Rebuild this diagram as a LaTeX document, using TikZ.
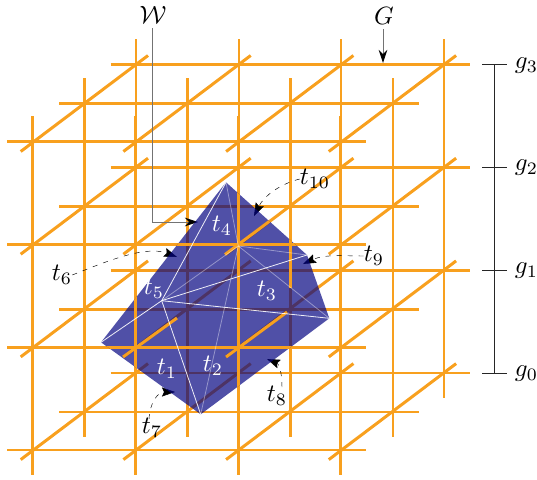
\documentclass[tikz,border=0pt]{standalone}
\usepackage{graphicx}
\usetikzlibrary{arrows.meta}
\definecolor{gridor}{RGB}{248,160,30}
\definecolor{polyb}{RGB}{5,5,130}
\newcommand{\bigmath}[1]{\scalebox{2.5}{$#1$}}
\tikzset{
  gridline/.style={draw=gridor,line width=2.6pt},
  poly/.style={fill=polyb,fill opacity=.7},
  frontedge/.style={draw=white,line width=.8pt,opacity=.9},
  backedge/.style={draw=white,line width=.8pt,opacity=.4},
  leader/.style={draw=black,line width=.45pt,dash pattern=on 5pt off 6pt,-{Stealth[length=13pt,width=9pt,inset=2pt,color=black]}},
  pointer/.style={draw=black!55,line width=.9pt,-{Stealth[length=13pt,width=8.5pt,color=black]}},
  lab/.style={inner sep=0pt},
  wlab/.style={lab,text=white},
  ruler/.style={draw=black!85,line width=.9pt}
}
\begin{document}
\begin{tikzpicture}[x=1pt,y=-1pt]
\useasboundingbox (0,0) rectangle (537,479);
% grid: three layers, back first
\foreach \y in {64.7,167.3,270.2,373}{\draw[gridline] (110.5,\y) -- (470,\y);}
\foreach \x in {136,239,341,444}{\draw[gridline] (\x,39) -- (\x,398);}
\foreach \y in {103.7,206.3,309.3,412}{\draw[gridline] (59,\y) -- (419,\y);}
\foreach \x in {84.7,187.7,290.3,393}{\draw[gridline] (\x,78) -- (\x,437);}
\foreach \y in {141.7,244.5,347.3,449.8}{\draw[gridline] (7,\y) -- (366,\y);}
\foreach \x in {32.3,135.3,238.3,340.3}{\draw[gridline] (\x,116) -- (\x,475);}
\foreach \i in {0,1,2,3}{\foreach \j in {0,1,2,3}{
  \draw[gridline,line width=3pt] ({20.7+102.7*\i},{459.6-102.7*\j}) -- ({148+102.7*\i},{363.6-102.7*\j});
}}
% leaders (lie under the surface)
\coordinate (w0) at (152,28);
\coordinate (w1) at (198,222);
\coordinate (g0) at (383,29);
\coordinate (g1) at (383,63);
\node[lab] (W) at (153,15) {\bigmath{\mathcal{W}}};
\node[lab] (G) at (384,16) {\bigmath{G}};
\draw[pointer] (w0) |- (w1);
\draw[pointer] (g0) -- (g1);
\node[lab] (t10) at (315,179) {\bigmath{t_{10}}};
\node[lab] (t9) at (374,256) {\bigmath{t_{9}}};
\node[lab] (t6) at (62,275) {\bigmath{t_{6}}};
\node[lab] (t8) at (277,396) {\bigmath{t_{8}}};
\node[lab] (t7) at (152,428) {\bigmath{t_{7}}};
\coordinate (a10) at (254,216);
\coordinate (a9) at (303,264);
\coordinate (a6) at (177,257);
\coordinate (a8) at (267,359);
\coordinate (a7) at (175,392);
\draw[leader] (t10.west) .. controls (280,184) and (264,196) .. (a10);
\draw[leader] (t9.west) .. controls (345,256) and (325,254) .. (a9);
\draw[leader] (t6.east) .. controls (105,262) and (145,245) .. (a6);
\draw[leader] (282,387) .. controls (282,372) and (279,364) .. (a8);
\draw[leader] (149,419) .. controls (150,402) and (158,392) .. (a7);
% surface
\coordinate (T) at (226,182.3);
\coordinate (R) at (307,255);
\coordinate (E) at (329.3,318.3);
\coordinate (B) at (200.7,414.3);
\coordinate (L) at (101,342.3);
\coordinate (A) at (161.7,300.7);
\coordinate (C) at (238.3,246);
\fill[poly] (T) -- (R) -- (E) -- (B) -- (L) -- cycle;
% grid parts in front of the surface
\begin{scope}
\clip (T) -- (R) -- (E) -- (B) -- (L) -- cycle;
\draw[gridline] (7,244.5) -- (366,244.5);
\draw[gridline] (7,347.3) -- (366,347.3);
\draw[gridline] (135.3,116) -- (135.3,475);
\draw[gridline] (238.3,116) -- (238.3,475);
\draw[gridline] (290.3,200) -- (290.3,288);
\draw[gridline,line width=3pt] (225,254.5) -- (300,198.4);
\draw[gridline,line width=3pt] (123,357) -- (177,318);
\draw[gridline,line width=3pt] (226,357) -- (287,312);
\end{scope}
% edges
\foreach \p in {L,T,R,E,B}{\draw[frontedge] (A) -- (\p);}
\foreach \p in {A,T,R,E,B}{\draw[backedge] (C) -- (\p);}
% labels on the surface
\node[wlab] (t1) at (167,369) {\bigmath{t_{1}}};
\node[wlab] (t2) at (213,366) {\bigmath{t_{2}}};
\node[wlab] (t3) at (267,291) {\bigmath{t_{3}}};
\node[wlab] (t4) at (222,226) {\bigmath{t_{4}}};
\node[wlab] (t5) at (154,289) {\bigmath{t_{5}}};
% ruler
\coordinate (r3) at (494.7,64.7);
\coordinate (r2) at (494.7,167.3);
\coordinate (r1) at (494.7,270.2);
\coordinate (r0) at (494.7,373);
\draw[ruler] (r3) -- (r0);
\foreach \c in {r0,r1,r2,r3}{\draw[ruler] ([xshift=-12.7pt]\c) -- ([xshift=12.3pt]\c);}
\node[lab] (g3l) at (526.5,66) {\bigmath{g_{3}}};
\node[lab] (g2l) at (526.5,168) {\bigmath{g_{2}}};
\node[lab] (g1l) at (526.5,271) {\bigmath{g_{1}}};
\node[lab] (g0l) at (526.5,374) {\bigmath{g_{0}}};
\end{tikzpicture}
\end{document}
